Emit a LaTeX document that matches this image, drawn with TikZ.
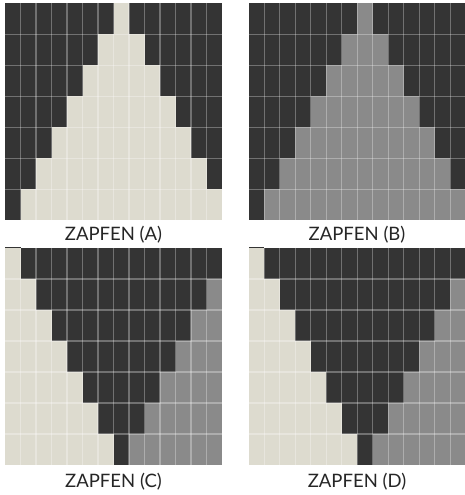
\documentclass[tikz,border=0pt]{standalone}
\usepackage{fontspec}
\setmainfont{Lato}

\definecolor{zdark}{HTML}{343434}
\definecolor{zgray}{HTML}{8A8A8A}
\definecolor{zlight}{HTML}{DDDBCF}

\begin{document}
\begin{tikzpicture}[x=1pt,y=-1pt,
    gridline/.style={white, opacity=0.3, line width=1.4pt},
    caption/.style={font=\fontsize{18.5}{21}\selectfont, text=black!85}]

% page
\fill[white] (0,0) rectangle (465,495);
\useasboundingbox (0,0) rectangle (465,495);

% panel A: light cone on dark
\begin{scope}[xshift=5pt, yshift=-3.3pt, x=15.5pt, y=-31pt]
  \fill[zdark] (0,0) rectangle (14,7);
  \foreach \r in {0,...,6}
    \fill[zlight] ({7-\r},\r) rectangle ({8+\r},\r+1);
  \foreach \c in {1,...,13}
    \draw[gridline] (\c,0) -- (\c,7);
  \foreach \r in {1,...,6}
    \draw[gridline] (0,\r) -- (14,\r);
\end{scope}

% panel B: grey cone on dark
\begin{scope}[xshift=248.7pt, yshift=-3.3pt, x=15.5pt, y=-31pt]
  \fill[zdark] (0,0) rectangle (14,7);
  \foreach \r in {0,...,6}
    \fill[zgray] ({7-\r},\r) rectangle ({8+\r},\r+1);
  \foreach \c in {1,...,13}
    \draw[gridline] (\c,0) -- (\c,7);
  \foreach \r in {1,...,6}
    \draw[gridline] (0,\r) -- (14,\r);
\end{scope}

% panel C: dark wedge between light and grey
\begin{scope}[xshift=5pt, yshift=-248pt, x=15.5pt, y=-31pt]
  \fill[zgray] (0,0) rectangle (14,7);
  \foreach \r in {0,...,6} {
    \fill[zlight] (0,\r) rectangle ({\r+1},\r+1);
    \fill[zdark] ({\r+1},\r) rectangle ({14-\r},\r+1);
  }
  \fill[zdark] (0,-0.04) rectangle (1,0);
  \foreach \c in {1,...,13}
    \draw[gridline] (\c,0) -- (\c,7);
  \foreach \r in {1,...,6}
    \draw[gridline] (0,\r) -- (14,\r);
\end{scope}

% panel D: same wedge
\begin{scope}[xshift=248.7pt, yshift=-248pt, x=15.5pt, y=-31pt]
  \fill[zgray] (0,0) rectangle (14,7);
  \foreach \r in {0,...,6} {
    \fill[zlight] (0,\r) rectangle ({\r+1},\r+1);
    \fill[zdark] ({\r+1},\r) rectangle ({14-\r},\r+1);
  }
  \fill[zdark] (0,-0.04) rectangle (1,0);
  \foreach \c in {1,...,13}
    \draw[gridline] (\c,0) -- (\c,7);
  \foreach \r in {1,...,6}
    \draw[gridline] (0,\r) -- (14,\r);
\end{scope}

% captions
\node[caption] (capA) at (113.5,234.5) {ZAPFEN (A)};
\node[caption] (capB) at (357,234.5) {ZAPFEN (B)};
\node[caption] (capC) at (113.5,481.5) {ZAPFEN (C)};
\node[caption] (capD) at (357,481.5) {ZAPFEN (D)};

\end{tikzpicture}
\end{document}
